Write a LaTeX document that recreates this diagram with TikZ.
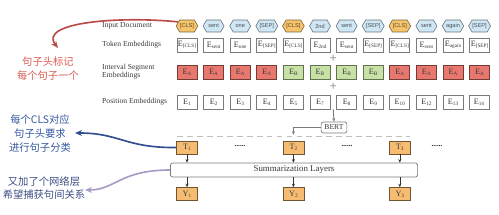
\documentclass[tikz,border=0pt]{standalone}
\usepackage{fontspec}
\setmainfont{Liberation Serif}
\setsansfont{Liberation Sans}
\newfontfamily\cjk{Noto Sans CJK SC}
\usetikzlibrary{arrows.meta,positioning,calc,shapes.symbols}
\definecolor{ink}{HTML}{3A3A3A}
\definecolor{boxline}{HTML}{7A7A7A}
\definecolor{hexC}{HTML}{F5C46C}
\definecolor{hexW}{HTML}{CFE6F4}
\definecolor{segA}{HTML}{E8776E}
\definecolor{segB}{HTML}{C8E2A6}
\definecolor{outc}{HTML}{F6BD72}
\definecolor{notered}{HTML}{DA5A52}
\definecolor{noteblue}{HTML}{3557A0}
\definecolor{notenavy}{HTML}{3E4F82}
\definecolor{notelav}{HTML}{A99BC6}
\newcommand{\vecsub}[2]{#1\raisebox{-.9pt}{\fontsize{4.5}{4.5}\selectfont #2}}
\tikzset{rowlabel/.style={anchor=west,inner sep=0pt,text=ink,align=left,
    font=\fontsize{6.5}{6.8}\selectfont},
  hex/.style={signal,signal to=east and west,signal pointer angle=120,
    draw=#1!50!black,fill=#1,text=#1!35!black,line width=.5pt,
    minimum width=17.9pt,minimum height=10.2pt,inner xsep=.3pt,inner ysep=0pt,
    font=\sffamily\fontsize{4.8}{4.8}\selectfont},
  embbox/.style={draw=boxline,fill=white,line width=.6pt,minimum width=17pt,
    minimum height=12pt,inner sep=0pt,text=ink,font=\fontsize{7}{7}\selectfont},
  outbox/.style={draw=outc!45!black,fill=outc,line width=.6pt,minimum width=17.9pt,
    minimum height=11pt,inner sep=0pt,text=ink,font=\fontsize{7}{7}\selectfont},
  layerbox/.style={draw=boxline,fill=white,line width=.6pt,rounded corners=2pt,
    minimum width=211pt,minimum height=12pt,inner sep=0pt,text=ink,
    font=\fontsize{7.6}{7.6}\selectfont},
  flow/.style={-{Stealth[length=3pt,width=2.6pt]},line width=.5pt,draw=black!80},
  note/.style={align=center,inner sep=0pt,font=\cjk\fontsize{8.8}{12}\selectfont},
  notearrow/.style={-{Stealth[length=6pt,width=5pt]},line width=1.4pt}}

\begin{document}
\begin{tikzpicture}[x=0.03cm,y=-0.03cm]
\useasboundingbox (0,0) rectangle (499,214);

% Row labels.
\node[rowlabel] (lblin) at (102,26) {Input Document};
\node[rowlabel] (lbltok) at (102,45) {Token Embeddings};
\node[rowlabel] (lblseg) at (102,72) {Interval Segment\\Embeddings};
\node[rowlabel] (lblpos) at (102,102) {Position Embeddings};

% One column per input token.
\foreach \i/\w/\h/\s/\p in {
  1/[CLS]/C/A/1, 2/sent/W/A/2, 3/one/W/A/3, 4/[SEP]/W/A/4,
  5/[CLS]/C/B/5, 6/2nd/W/B/7, 7/sent/W/B/8, 8/[SEP]/W/B/9,
  9/[CLS]/C/A/10, 10/sent/W/A/12, 11/again/W/A/13, 12/[SEP]/W/A/14
}{
  \node[hex=hex\h] (w\i) at ({187+(\i-1)*26.6},26) {\w};
  \node[embbox] (tok\i) at ({187+(\i-1)*26.6},45) {\vecsub{E}{\w}};
  \node[embbox,fill=seg\s,draw=seg\s!50!black] (seg\i)
    at ({187+(\i-1)*26.6},72) {\vecsub{E}{\s}};
  \node[embbox] (pos\i) at ({187+(\i-1)*26.6},102) {\vecsub{E}{\p}};
}
\node[text=black!40,font=\bfseries\fontsize{11}{11}\selectfont,inner sep=0pt]
  (plus1) at ($(tok6)!.5!(seg7)$) {+};
\node[text=black!40,font=\bfseries\fontsize{11}{11}\selectfont,inner sep=0pt]
  (plus2) at ($(seg6)!.5!(pos7)$) {+};

% Encoder.
\node[embbox,rounded corners=2pt,minimum width=22pt,minimum height=9.5pt,
  font=\fontsize{6.5}{6.5}\selectfont] (bert) at (334,127.5) {BERT};
\coordinate (bertin) at ($(pos6.south)!.5!(pos7.south)$);
\draw[flow,draw=boxline,line width=.8pt] (bertin) -- (bert.north);
\draw[black!25,line width=.7pt,dash pattern=on 5pt off 3.5pt] (177,136) -- (410,136);

% Sentence vectors and the extra layers.
\foreach \k/\c in {1/1,2/5,3/9}{
  \node[outbox] (t\k) at ({187+(\c-1)*26.6},147.5) {\vecsub{T}{\k}};
  \node[outbox] (y\k) at ({187+(\c-1)*26.6},194) {\vecsub{Y}{\k}};
}
\coordinate (t2in) at ($(t2.north)+(0,-6)$);
\draw[flow,draw=boxline,line width=.8pt] (bert.west) -| (t2in);
\foreach \n/\x in {1/240,2/347,3/437}
  \node[font=\bfseries\fontsize{6}{6}\selectfont,inner sep=0pt] (dots\n) at (\x,146) {......};
\node[layerbox] (summ) at (294,170) {Summarization Layers};
\foreach \k in {1,2,3}{
  \draw[flow] (t\k.south) -- (summ.north -| t\k);
  \draw[flow] (summ.south -| y\k) -- (y\k.north);
}

% Notes on the left.
\node[note,text=notered] (tagnote) at (48,68.5) {句子头标记\\每个句子一个};
\node[note,text=noteblue] (clsnote) at (40,134) {每个CLS对应\\句子头要求\\进行句子分类};
\node[note,text=notenavy,font=\cjk\fontsize{8.8}{10.5}\selectfont]
  (layernote) at (44,188) {又加了个网络层\\希望捕获句间关系};
\coordinate (tagtip) at (58,48);
\coordinate (clstip) at (75,133);
\coordinate (layertip) at (85,190);
\draw[notearrow,draw=notered!85!black] (w1.155) .. controls (120,16) and (38,22) .. (tagtip);
\draw[notearrow,draw=noteblue!90!black] (t1.west) .. controls (125,148) and (120,133) .. (clstip);
\draw[notearrow,draw=notelav] (summ.west) .. controls (120,170) and (115,190) .. (layertip);
\end{tikzpicture}
\end{document}
